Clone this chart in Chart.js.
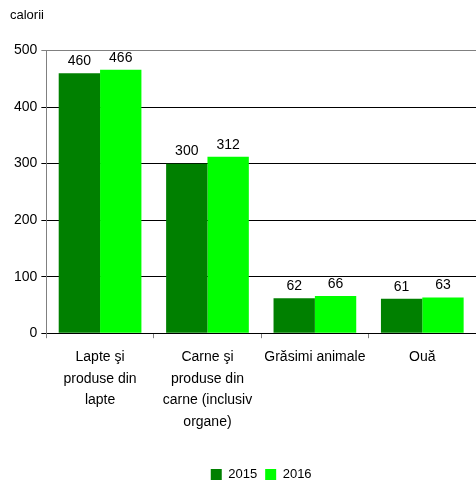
<!DOCTYPE html>
<html>
<head>
<meta charset="utf-8">
<script src="https://cdn.jsdelivr.net/npm/chart.js@4"></script>
<style>
  html, body { margin: 0; padding: 0; background: #fff; }
  #wrap { width: 476px; height: 480px; }
</style>
</head>
<body>
<div id="wrap"><canvas id="chart"></canvas></div>
<script>
// data
const categories = [
  ['Lapte şi', 'produse din', 'lapte'],
  ['Carne şi', 'produse din', 'carne (inclusiv', 'organe)'],
  'Grăsimi animale',
  'Ouă'
];
const series2015 = [460, 300, 62, 61];
const series2016 = [466, 312, 66, 63];
const yTicks = [0, 100, 200, 300, 400, 500];

const FONT = 'Liberation Sans, Arial, sans-serif';

// value labels above bars
const barLabels = {
  id: 'barLabels',
  afterDatasetsDraw(chart) {
    const ctx = chart.ctx;
    ctx.save();
    ctx.font = '14px ' + FONT;
    ctx.fillStyle = '#000';
    ctx.textAlign = 'center';
    ctx.textBaseline = 'bottom';
    chart.data.datasets.forEach((ds, i) => {
      chart.getDatasetMeta(i).data.forEach((bar, j) => {
        ctx.fillText(ds.data[j], bar.x, bar.y - 5);
      });
    });
    ctx.restore();
  }
};

// center the legend under the plot area instead of the whole canvas
const legendShift = {
  id: 'legendShift',
  afterLayout(chart) {
    const l = chart.legend;
    const area = chart.chartArea;
    const shift = (area.left + area.right) / 2 - (l.left + l.right) / 2;
    l.left += shift;
    l.right += shift;
  }
};

new Chart(document.getElementById('chart'), {
  type: 'bar',
  data: {
    labels: categories,
    datasets: [
      { label: '2015', data: series2015, backgroundColor: '#008000', categoryPercentage: 0.77, barPercentage: 1 },
      { label: '2016', data: series2016, backgroundColor: '#00ff00', categoryPercentage: 0.77, barPercentage: 1 }
    ]
  },
  options: {
    responsive: true,
    maintainAspectRatio: false,
    animation: false,
    layout: { padding: { top: 0, right: 0, bottom: -11, left: 10 } },
    plugins: {
      title: {
        display: true,
        text: 'calorii',
        align: 'start',
        color: '#000',
        font: { family: FONT, size: 13, weight: 'normal' },
        padding: { top: 8, bottom: 27 }
      },
      legend: {
        position: 'bottom',
        labels: {
          color: '#000',
          font: { family: FONT, size: 13 },
          boxWidth: 11,
          boxHeight: 11,
          padding: 8
        }
      },
      tooltip: { enabled: false }
    },
    scales: {
      x: {
        afterFit: axis => { axis.height += 19; },
        grid: {
          display: true,
          drawOnChartArea: false,
          offset: true,
          tickLength: 5,
          color: '#808080'
        },
        border: { color: '#000' },
        ticks: {
          color: '#000',
          font: { family: FONT, size: 14, lineHeight: 1.55 },
          maxRotation: 0,
          autoSkip: false,
          padding: 8
        }
      },
      y: {
        min: 0,
        max: 500,
        afterBuildTicks: axis => { axis.ticks = yTicks.map(v => ({ value: v })); },
        grid: {
          color: c => (c.tick && c.tick.value === 500 ? '#808080' : '#000'),
          tickLength: 5
        },
        border: { color: '#808080' },
        ticks: {
          color: '#000',
          font: { family: FONT, size: 14 },
          padding: 4
        }
      }
    }
  },
  plugins: [barLabels, legendShift]
});
</script>
</body>
</html>
